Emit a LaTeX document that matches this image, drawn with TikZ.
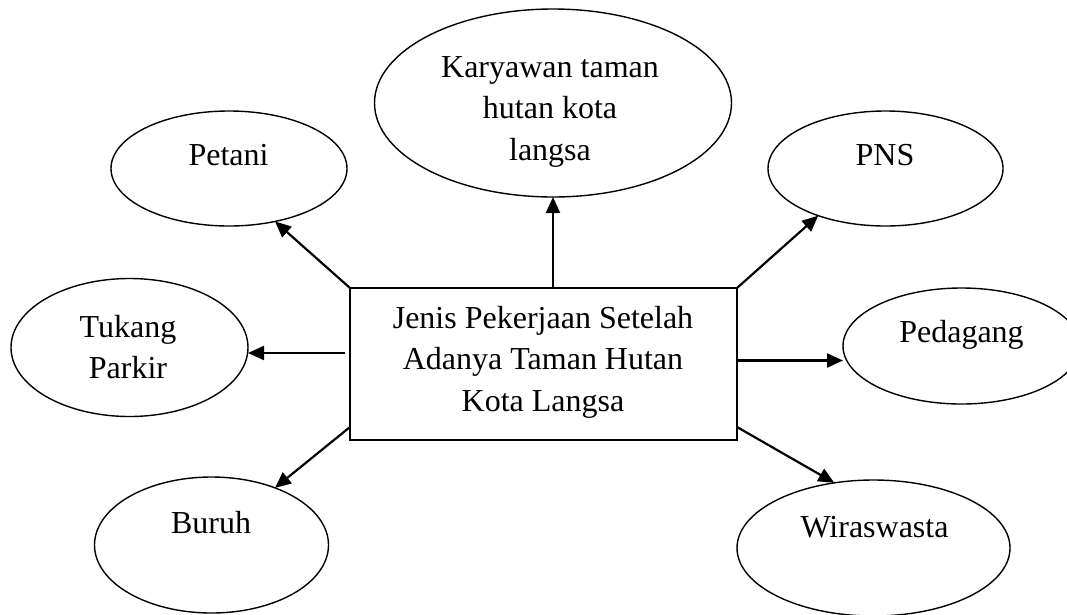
\documentclass[tikz,border=0pt]{standalone}
\usepackage{fontspec}
\setmainfont{Liberation Serif}
\usetikzlibrary{arrows.meta,shapes.geometric}
\begin{document}
\begin{tikzpicture}[x=1pt,y=-1pt,
  ell/.style={draw, ellipse, line width=1.4pt, inner sep=0pt, outer sep=0pt},
  mainbox/.style={draw, rectangle, line width=2pt, inner sep=0pt, outer sep=0pt,
    minimum width=387pt, minimum height=152pt},
  txt/.style={anchor=base, inner sep=0pt, font=\fontsize{32}{41.5}\selectfont},
  arr/.style={line width=2.2pt, -{Triangle[length=16pt,width=14pt]}}]
\useasboundingbox (0,0) rectangle (1067,614);

% ellipses
\node[ell, minimum width=357pt, minimum height=188pt] (karyawan) at (553,103) {};
\node[ell, minimum width=236pt, minimum height=115pt] (petani) at (229,168.5) {};
\node[ell, minimum width=235pt, minimum height=115pt] (pns) at (885.5,168.5) {};
\node[ell, minimum width=237pt, minimum height=138pt] (tukang) at (129.5,347.5) {};
\node[ell, minimum width=237pt, minimum height=116pt] (pedagang) at (961.5,346) {};
\node[ell, minimum width=234pt, minimum height=136pt] (buruh) at (211.5,545) {};
\node[ell, minimum width=273pt, minimum height=136pt] (wira) at (873.5,548) {};

% central box
\node[mainbox] (box) at (543.5,364) {};

% texts
\node[txt] (tkaryawan) at (550,77) {\begin{tabular}[t]{@{}c@{}}Karyawan taman\\hutan kota\\langsa\end{tabular}};
\node[txt] (tpetani) at (228.5,165) {Petani};
\node[txt] (tpns) at (885,165) {PNS};
\node[txt] (ttukang) at (128,337) {\begin{tabular}[t]{@{}c@{}}Tukang\\Parkir\end{tabular}};
\node[txt] (tpedagang) at (961.5,342) {Pedagang};
\node[txt] (tburuh) at (211,533) {Buruh};
\node[txt] (twira) at (874.5,537) {Wiraswasta};
\node[txt] (tbox) at (543,328) {\begin{tabular}[t]{@{}c@{}}Jenis Pekerjaan Setelah\\Adanya Taman Hutan\\Kota Langsa\end{tabular}};

% connectors
\coordinate (s-up) at (box.north -| karyawan.south);
\draw[arr] (s-up) -- (karyawan.south);
\draw[arr] (box.north west) -- (petani.-49);
\draw[arr] (box.north east) -- (pns.-145);
\coordinate (s-tk) at (345,353);
\draw[arr] (s-tk) -- (s-tk -| tukang.east);
\coordinate (s-pd) at ([yshift=3.5pt]box.east);
\draw[arr] (s-pd) -- (s-pd -| pedagang.west);
\coordinate (s-bu) at ([yshift=13pt]box.south west);
\draw[arr] (s-bu) -- (buruh.42);
\coordinate (s-wi) at ([yshift=13pt]box.south east);
\draw[arr] (s-wi) -- (wira.121);
\end{tikzpicture}
\end{document}
